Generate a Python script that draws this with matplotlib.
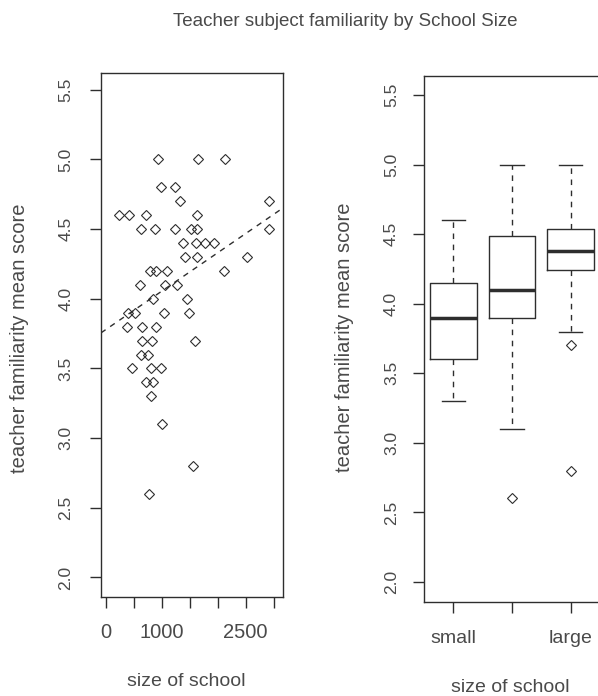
import matplotlib
matplotlib.use("Agg")
import matplotlib.pyplot as plt
import numpy as np

# ---- data ----
school_size = [928, 1645, 2136, 977, 1233, 1317, 2925, 224, 403, 714, 1634,
               624, 870, 1233, 1514, 1634, 2918, 1377, 1616, 1765, 1932,
               1419, 1622, 2524, 780, 899, 1090, 2106, 612, 1061, 1269,
               839, 1448, 385, 523, 1030, 1484, 373, 642, 887,
               642, 828, 1599, 624, 756, 463, 810, 977, 714, 833, 810,
               995, 1556, 774]
familiarity = [5.0, 5.0, 5.0, 4.8, 4.8, 4.7, 4.7, 4.6, 4.6, 4.6, 4.6,
               4.5, 4.5, 4.5, 4.5, 4.5, 4.5, 4.4, 4.4, 4.4, 4.4,
               4.3, 4.3, 4.3, 4.2, 4.2, 4.2, 4.2, 4.1, 4.1, 4.1,
               4.0, 4.0, 3.9, 3.9, 3.9, 3.9, 3.8, 3.8, 3.8,
               3.7, 3.7, 3.7, 3.6, 3.6, 3.5, 3.5, 3.5, 3.4, 3.4, 3.3,
               3.1, 2.8, 2.6]
fit_intercept = 3.78
fit_slope = 0.000275

size_groups = ["small", "medium", "large"]
size_group_labels = ["small", "", "large"]
whisker_low = [3.3, 3.1, 3.8]
q1 = [3.6, 3.9, 4.24]
median = [3.9, 4.1, 4.38]
q3 = [4.15, 4.49, 4.54]
whisker_high = [4.6, 5.0, 5.0]
outliers = [[], [2.6], [3.7, 2.8]]

x_ticks = [0, 500, 1000, 1500, 2000, 2500, 3000]
x_tick_labels = ["0", "", "1000", "", "", "2500", ""]
y_ticks = [2.0, 2.5, 3.0, 3.5, 4.0, 4.5, 5.0, 5.5]

title = "Teacher subject familiarity by School Size"
x_title = "size of school"
y_title = "teacher familiarity mean score"

W, H = 598, 696
fig = plt.figure(figsize=(W / 100, H / 100), dpi=100)
plt.rcParams['font.family'] = ['Liberation Sans', 'DejaVu Sans']

TXT = "#4a4a4a"
LN = "#2e2e2e"

def px_axes(l, r, t, b):
    return fig.add_axes([l / W, 1 - b / H, (r - l) / W, (b - t) / H])

def style(ax, ypad, xpad, xsize):
    for s in ax.spines.values():
        s.set_color(LN)
        s.set_linewidth(1.0)
    ax.tick_params(colors=LN, labelcolor=TXT, length=8, width=1.0)
    ax.tick_params(axis="y", labelsize=12.5, pad=ypad)
    ax.tick_params(axis="x", labelsize=xsize, pad=xpad)
    ax.set_yticks(y_ticks)
    ax.set_yticklabels([f"{v:.1f}" for v in y_ticks], rotation=90, va="center")

def ftext(x, y, s, **kw):
    fig.text(x / W, 1 - y / H, s, ha="center", va="center", color=TXT, **kw)

# ---- left: scatter ----
ax1 = px_axes(101, 283, 73, 597)
ax1.set_xlim(-90, 3170)
ax1.set_ylim(1.86, 5.62)
ax1.plot(school_size, familiarity, linestyle="none", marker="D", ms=5,
         mfc="none", mec=LN, mew=0.8)
ax1.axline((0, fit_intercept), slope=fit_slope, color=LN, lw=1.0,
           dashes=(4, 4))
style(ax1, ypad=12, xpad=11, xsize=14.5)
ax1.set_xticks(x_ticks)
ax1.set_xticklabels(x_tick_labels)

# ---- right: boxplot ----
ax2 = px_axes(424, 600, 76, 602)
stats = []
for i, g in enumerate(size_groups):
    stats.append(dict(label=g, whislo=whisker_low[i], q1=q1[i], med=median[i],
                      q3=q3[i], whishi=whisker_high[i], fliers=outliers[i]))
ax2.bxp(stats, positions=[1, 2, 3], widths=0.8,
        boxprops=dict(color=LN, lw=1.0),
        medianprops=dict(color=LN, lw=2.5),
        whiskerprops=dict(color=LN, lw=1.0, dashes=(4, 4)),
        capprops=dict(color=LN, lw=1.0),
        capwidths=0.4,
        flierprops=dict(marker="D", ms=5, mfc="none", mec=LN, mew=0.8))
ax2.set_xlim(0.5, 3.5)
ax2.set_ylim(1.856, 5.637)
style(ax2, ypad=10, xpad=12, xsize=14)
ax2.set_xticks([1, 2, 3])
ax2.set_xticklabels(size_group_labels)

# ---- titles ----
ftext(345, 22, title, fontsize=13.5)
ftext(186, 682, x_title, fontsize=14)
ftext(510, 687, x_title, fontsize=14)
ftext(20, 338, y_title, fontsize=14.5, rotation=90)
ftext(345, 337, y_title, fontsize=14.5, rotation=90)

fig.savefig("out.png", dpi=100, facecolor="white")
